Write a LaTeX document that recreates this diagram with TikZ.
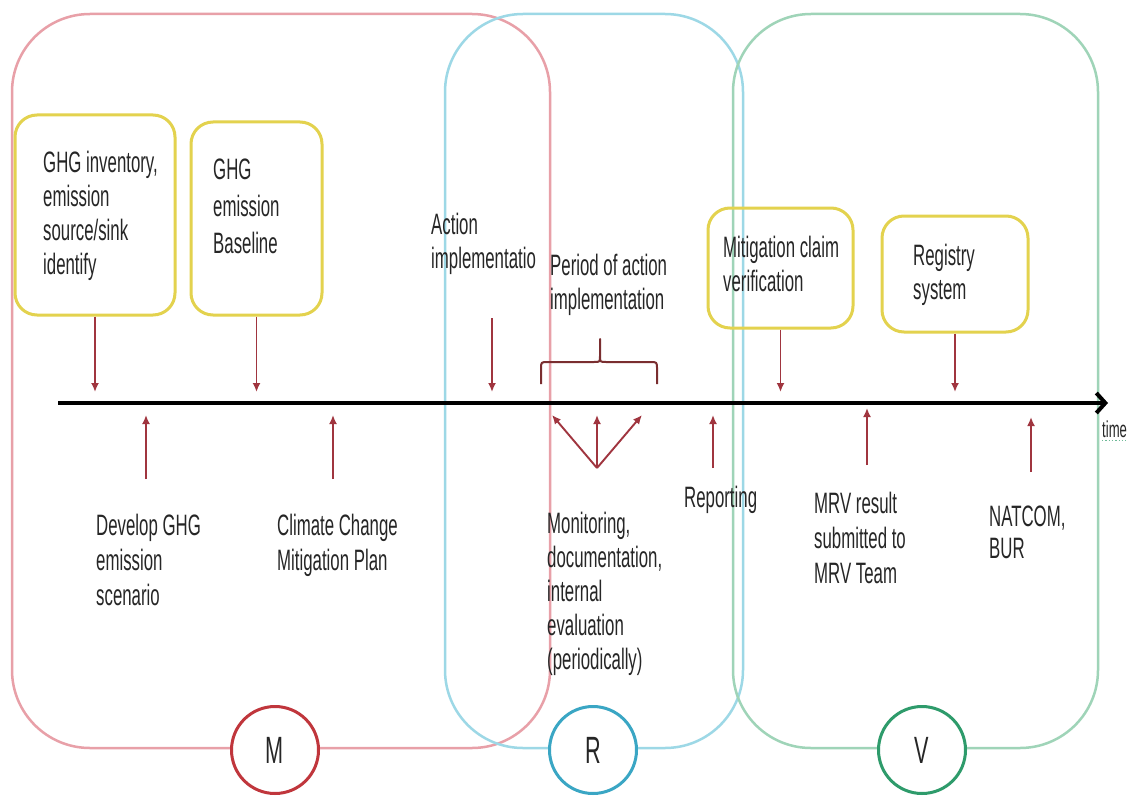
\documentclass[tikz,border=0pt]{standalone}
\usepackage{fontspec}
\setmainfont{Liberation Sans}[FakeStretch=0.57]
\usetikzlibrary{arrows.meta}
\definecolor{mpink}{HTML}{E8A0A8}
\definecolor{rcyan}{HTML}{9DD8E6}
\definecolor{vgreen}{HTML}{9FD4B8}
\definecolor{mred}{HTML}{C0363C}
\definecolor{rteal}{HTML}{3AA6C4}
\definecolor{vdark}{HTML}{2E9B6B}
\definecolor{yel}{HTML}{E3D24E}
\definecolor{arrc}{HTML}{A0353F}
\definecolor{bracec}{HTML}{7A2E30}
\definecolor{txt}{HTML}{262626}
\begin{document}
\begin{tikzpicture}[x=1pt,y=-1pt]
\tikzset{
  lbl/.style={font=\fontsize{29.5}{34}\selectfont, text=txt, align=left, inner sep=0pt, anchor=north west},
  yrect/.style={draw=yel, line width=3pt, rounded corners=22pt, rectangle, inner sep=0pt},
  bigreg/.style={line width=2.5pt, rounded corners=78pt},
  circ/.style={circle, line width=3pt, fill=white, minimum size=87pt, inner sep=0pt, font=\fontsize{38}{40}\selectfont, text=txt},
  arr/.style={draw=arrc, line width=1.9pt, -{Latex[length=9pt,width=8pt]}},
  timeline/.style={draw=black, line width=4pt, -{Straight Barb[length=9pt,width=20pt]}},
  bracepath/.style={draw=bracec, line width=2pt, line join=round},
}
\useasboundingbox (0,0) rectangle (1129,805);
\fill[white] (0,0) rectangle (1129,805);

% big regions
\draw[bigreg, draw=mpink] (12,14) rectangle (550,748);
\draw[bigreg, draw=rcyan] (445,14) rectangle (743,748);
\draw[bigreg, draw=vgreen] (733,14) rectangle (1098,748);

% circles
\node[circ, draw=mred] (M) at (275,750) {M};
\node[circ, draw=rteal] (R) at (593,750) {R};
\node[circ, draw=vdark] (V) at (922,750) {V};

% yellow boxes
\node[yrect, minimum width=160pt, minimum height=200pt] (b1) at (95,215) {};
\node[yrect, minimum width=131pt, minimum height=193pt] (b2) at (256.5,218.5) {};
\node[yrect, minimum width=145pt, minimum height=120pt] (b3) at (780.5,268) {};
\node[yrect, minimum width=146pt, minimum height=116pt] (b4) at (955,274) {};

% texts
\node[lbl] (t1) at (43,151) {GHG inventory,\\emission\\source/sink\\identify};
\node[lbl, font=\fontsize{29.5}{37}\selectfont] (t2) at (213,159) {GHG\\emission\\Baseline};
\node[lbl] (t3) at (431,213) {Action\\implementatio};
\node[lbl] (t4) at (550,254) {Period of action\\implementation};
\node[lbl] (t5) at (723,236) {Mitigation claim\\verification};
\node[lbl] (t6) at (913,244) {Registry\\system};
\node[lbl, font=\fontsize{29.5}{35}\selectfont] (t7) at (96,514) {Develop GHG\\emission\\scenario};
\node[lbl, font=\fontsize{29.5}{35}\selectfont] (t8) at (277,514) {Climate Change\\Mitigation Plan};
\node[lbl] (t9) at (547,512) {Monitoring,\\documentation,\\internal\\evaluation\\(periodically)};
\node[lbl] (t10) at (684,486) {Reporting};
\node[lbl, font=\fontsize{29.5}{35}\selectfont] (t11) at (814,492) {MRV result\\submitted to\\MRV Team};
\node[lbl, font=\fontsize{29.5}{32}\selectfont] (t12) at (989,506) {NATCOM,\\BUR};
\node[lbl, font=\fontsize{23}{26}\selectfont] (time) at (1102,421) {time};
\draw[vdark!70, dotted, line width=1.3pt] ([yshift=-2pt]time.south west) -- ([yshift=-2pt]time.south east);

% timeline
\coordinate (ts) at (58,403);
\coordinate (te) at (1108,403);
\draw[timeline] (ts) -- (te);

% down arrows
\coordinate (dn) at (0,392);
\draw[arr] (b1.south) -- (b1.south |- dn);
\draw[arr] (b2.south) -- (b2.south |- dn);
\draw[arr] (b3.south) -- (b3.south |- dn);
\draw[arr] (b4.south) -- (b4.south |- dn);
\coordinate (a3s) at (492,318);
\coordinate (a3e) at (492,392);
\draw[arr] (a3s) -- (a3e);

% brace
\coordinate (brL) at (541,384);
\coordinate (brT) at (600,339);
\coordinate (brR) at (657,384);
\draw[bracepath] (brL) -- (541,369) .. controls (541,362) .. (548,362) -- (594,362) .. controls (600,362) .. (brT |- 0,356) -- (brT) -- (brT |- 0,356) .. controls (600,362) .. (606,362) -- (650,362) .. controls (657,362) .. (657,369) -- (brR);

% up arrows
\coordinate (u1s) at (146,479); \coordinate (u1e) at (146,415);
\coordinate (u2s) at (333,479); \coordinate (u2e) at (333,415);
\coordinate (mb) at (597,468);
\coordinate (m1) at (552,415); \coordinate (m2) at (597,415); \coordinate (m3) at (642,415);
\coordinate (rps) at (713,468); \coordinate (rpe) at (713,415);
\coordinate (mrs) at (867,465); \coordinate (mre) at (867,408);
\coordinate (nas) at (1031,472); \coordinate (nae) at (1031,417);
\draw[arr] (u1s) -- (u1e);
\draw[arr] (u2s) -- (u2e);
\draw[arr] (mb) -- (m1);
\draw[arr] (mb) -- (m2);
\draw[arr] (mb) -- (m3);
\draw[arr] (rps) -- (rpe);
\draw[arr] (mrs) -- (mre);
\draw[arr] (nas) -- (nae);
\end{tikzpicture}
\end{document}
